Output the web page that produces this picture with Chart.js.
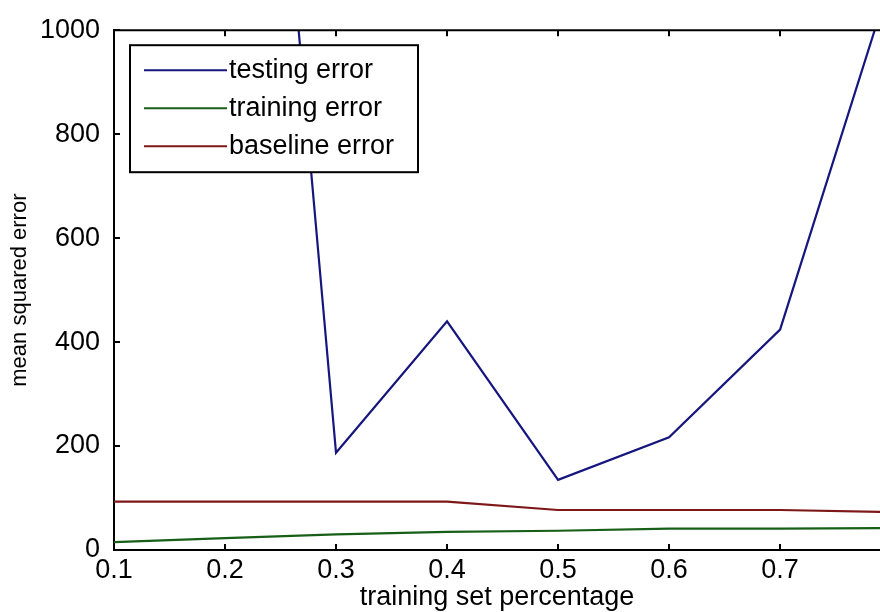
<!DOCTYPE html>
<html>
<head>
<meta charset="utf-8">
<script src="https://cdn.jsdelivr.net/npm/chart.js@4.4.1/dist/chart.umd.min.js"></script>
<style>
html,body{margin:0;padding:0;background:#fff;}
#wrap{width:880px;height:612px;position:relative;}
canvas{display:block;}
</style>
</head>
<body>
<div id="wrap"><canvas id="c" width="880" height="612"></canvas></div>
<script>
// ---- data ----
const trainingFractions = [0.1, 0.2, 0.3, 0.4, 0.5, 0.6, 0.7, 0.8];
const testingError  = [2800, 2600, 187, 440, 135, 217, 424, 1100];
const trainingError = [15, 23, 30, 35, 37, 41, 41, 42];
const baselineError = [93, 93, 93, 93, 77, 77, 77, 73];
const seriesLabels = ['testing error', 'training error', 'baseline error'];
const xTickValues = [0.1, 0.2, 0.3, 0.4, 0.5, 0.6, 0.7];
const yTickValues = [0, 200, 400, 600, 800, 1000];
const xTitle = 'training set percentage';
const yTitle = 'mean squared error';

const colors = ['#16167e', '#175f17', '#7e1818'];
const FONT = 'Liberation Sans';

function pts(arr) { return trainingFractions.map((x, i) => ({ x: x, y: arr[i] })); }

const boxPlugin = {
  id: 'matlabBox',
  afterDatasetsDraw(chart) {
    const ctx = chart.ctx;
    const a = chart.chartArea;
    const xs = chart.scales.x, ys = chart.scales.y;
    ctx.save();
    ctx.strokeStyle = '#000';
    ctx.lineWidth = 2;
    ctx.beginPath();
    ctx.moveTo(a.left, a.top);
    ctx.lineTo(a.right, a.top);
    ctx.stroke();
    const tl = 6;
    ctx.beginPath();
    xTickValues.forEach(v => {
      const px = Math.round(xs.getPixelForValue(v));
      ctx.moveTo(px, a.bottom); ctx.lineTo(px, a.bottom - tl);
      ctx.moveTo(px, a.top); ctx.lineTo(px, a.top + tl);
    });
    yTickValues.forEach(v => {
      const py = Math.round(ys.getPixelForValue(v));
      ctx.moveTo(a.left, py); ctx.lineTo(a.left + tl, py);
    });
    ctx.stroke();
    ctx.restore();
  },
  afterDraw(chart) {
    const ctx = chart.ctx;
    const a = chart.chartArea;
    const bx = a.left + 16, by = a.top + 15, bw = 288, bh = 127;
    ctx.save();
    ctx.fillStyle = '#fff';
    ctx.fillRect(bx, by, bw, bh);
    ctx.strokeStyle = '#000';
    ctx.lineWidth = 2;
    ctx.strokeRect(bx, by, bw, bh);
    ctx.font = '27px "' + FONT + '"';
    ctx.textBaseline = 'alphabetic';
    ctx.textAlign = 'left';
    chart.data.datasets.forEach((ds, i) => {
      const ly = by + 25 + i * 38;
      ctx.strokeStyle = ds.borderColor;
      ctx.lineWidth = 2;
      ctx.beginPath();
      ctx.moveTo(bx + 14, ly);
      ctx.lineTo(bx + 97, ly);
      ctx.stroke();
      ctx.fillStyle = '#000';
      ctx.fillText(ds.label, bx + 99, ly + 8);
    });
    ctx.restore();
  }
};

new Chart(document.getElementById('c'), {
  type: 'line',
  data: {
    datasets: [
      { label: seriesLabels[0], data: pts(testingError), borderColor: colors[0] },
      { label: seriesLabels[1], data: pts(trainingError), borderColor: colors[1] },
      { label: seriesLabels[2], data: pts(baselineError), borderColor: colors[2] }
    ].map(d => Object.assign(d, { borderWidth: 2.2, pointRadius: 0, fill: false, tension: 0 }))
  },
  options: {
    responsive: false,
    animation: false,
    devicePixelRatio: 1,
    layout: { padding: { top: 28, right: 0, left: 0, bottom: 0 } },
    plugins: { legend: { display: false }, tooltip: { enabled: false } },
    scales: {
      x: {
        type: 'linear',
        min: 0.1,
        max: 0.79,
        afterBuildTicks: s => { s.ticks = xTickValues.map(v => ({ value: v })); },
        afterFit: s => { s.height = 62; },
        grid: { display: false, drawTicks: false },
        border: { display: true, color: '#000', width: 2 },
        ticks: {
          padding: 4,
          color: '#000',
          font: { family: FONT, size: 27 },
          maxRotation: 0,
          autoSkip: false,
          callback: v => Number(v).toFixed(1)
        },
        title: {
          display: true,
          text: xTitle,
          color: '#000',
          font: { family: FONT, size: 27 },
          padding: { top: 0, bottom: -2 }
        }
      },
      y: {
        type: 'linear',
        min: 0,
        max: 1000,
        afterBuildTicks: s => { s.ticks = yTickValues.map(v => ({ value: v })); },
        afterFit: s => { s.width = 114; },
        grid: { display: false, drawTicks: false },
        border: { display: true, color: '#000', width: 2 },
        ticks: {
          padding: 14,
          color: '#000',
          font: { family: FONT, size: 27 },
          autoSkip: false,
          callback: v => String(v)
        },
        title: {
          display: true,
          text: yTitle,
          color: '#000',
          font: { family: FONT, size: 22 },
          padding: { top: 7, bottom: 0 }
        }
      }
    }
  },
  plugins: [boxPlugin]
});
</script>
</body>
</html>
